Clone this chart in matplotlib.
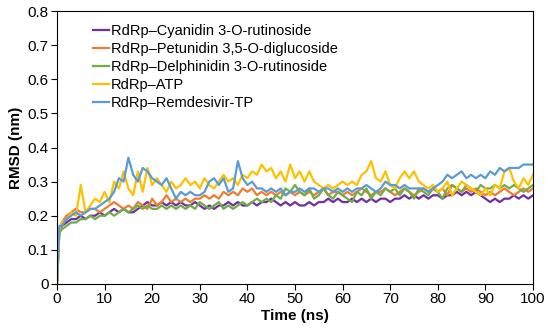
import matplotlib
matplotlib.use("Agg")
import matplotlib.pyplot as plt

plt.rcParams["font.family"] = ["Liberation Sans", "DejaVu Sans"]

# time in ns: 0, 0.5, then every 1 ns
time = [0, 0.5] + list(range(1, 101))

cyanidin = [0.0, 0.16,
    0.17, 0.18, 0.19, 0.19, 0.20, 0.19, 0.20, 0.20, 0.21, 0.20,
    0.21, 0.22, 0.21, 0.22, 0.21, 0.21, 0.22, 0.23, 0.24, 0.23,
    0.23, 0.24, 0.23, 0.24, 0.23, 0.24, 0.23, 0.23, 0.24, 0.23,
    0.22, 0.23, 0.22, 0.23, 0.23, 0.24, 0.23, 0.24, 0.23, 0.23,
    0.24, 0.23, 0.24, 0.24, 0.25, 0.24, 0.23, 0.24, 0.23, 0.24,
    0.23, 0.23, 0.24, 0.23, 0.24, 0.24, 0.25, 0.24, 0.25, 0.24,
    0.24, 0.25, 0.24, 0.25, 0.24, 0.25, 0.24, 0.25, 0.25, 0.24,
    0.25, 0.25, 0.26, 0.25, 0.26, 0.25, 0.26, 0.25, 0.26, 0.26,
    0.25, 0.26, 0.26, 0.27, 0.26, 0.27, 0.26, 0.27, 0.26, 0.25,
    0.24, 0.25, 0.24, 0.25, 0.25, 0.26, 0.25, 0.26, 0.25, 0.26]

petunidin = [0.0, 0.16,
    0.18, 0.20, 0.21, 0.22, 0.21, 0.21, 0.22, 0.22, 0.21, 0.22,
    0.23, 0.24, 0.23, 0.22, 0.23, 0.22, 0.24, 0.23, 0.22, 0.25,
    0.23, 0.24, 0.26, 0.24, 0.25, 0.24, 0.25, 0.24, 0.25, 0.25,
    0.26, 0.25, 0.26, 0.25, 0.27, 0.26, 0.27, 0.26, 0.28, 0.27,
    0.28, 0.26, 0.27, 0.26, 0.27, 0.26, 0.27, 0.26, 0.27, 0.26,
    0.27, 0.26, 0.27, 0.26, 0.27, 0.28, 0.26, 0.27, 0.27, 0.26,
    0.27, 0.26, 0.27, 0.28, 0.27, 0.26, 0.27, 0.27, 0.28, 0.27,
    0.26, 0.27, 0.28, 0.27, 0.26, 0.27, 0.28, 0.27, 0.28, 0.27,
    0.28, 0.26, 0.29, 0.28, 0.27, 0.28, 0.27, 0.28, 0.27, 0.26,
    0.27, 0.26, 0.27, 0.28, 0.27, 0.26, 0.27, 0.28, 0.27, 0.28]

delphinidin = [0.0, 0.15,
    0.16, 0.17, 0.18, 0.18, 0.19, 0.19, 0.20, 0.19, 0.20, 0.20,
    0.21, 0.20, 0.21, 0.22, 0.21, 0.22, 0.23, 0.22, 0.23, 0.22,
    0.22, 0.23, 0.22, 0.23, 0.22, 0.23, 0.22, 0.23, 0.22, 0.24,
    0.23, 0.22, 0.23, 0.24, 0.22, 0.23, 0.22, 0.23, 0.24, 0.23,
    0.24, 0.25, 0.24, 0.25, 0.24, 0.26, 0.25, 0.28, 0.27, 0.29,
    0.27, 0.26, 0.28, 0.25, 0.26, 0.28, 0.26, 0.25, 0.27, 0.26,
    0.25, 0.24, 0.27, 0.26, 0.28, 0.25, 0.27, 0.26, 0.28, 0.27,
    0.28, 0.26, 0.28, 0.27, 0.25, 0.28, 0.27, 0.26, 0.28, 0.27,
    0.25, 0.28, 0.29, 0.28, 0.27, 0.29, 0.28, 0.27, 0.29, 0.28,
    0.28, 0.29, 0.28, 0.29, 0.28, 0.29, 0.28, 0.27, 0.28, 0.29]

atp = [0.0, 0.16,
    0.18, 0.19, 0.21, 0.20, 0.29, 0.21, 0.23, 0.25, 0.24, 0.27,
    0.24, 0.30, 0.28, 0.33, 0.28, 0.26, 0.33, 0.27, 0.34, 0.29,
    0.31, 0.29, 0.27, 0.30, 0.28, 0.29, 0.31, 0.29, 0.30, 0.28,
    0.31, 0.29, 0.28, 0.30, 0.32, 0.30, 0.31, 0.29, 0.32, 0.31,
    0.33, 0.32, 0.35, 0.33, 0.34, 0.31, 0.33, 0.30, 0.35, 0.31,
    0.33, 0.30, 0.33, 0.30, 0.29, 0.28, 0.29, 0.28, 0.29, 0.30,
    0.29, 0.30, 0.29, 0.32, 0.33, 0.36, 0.31, 0.30, 0.33, 0.29,
    0.28, 0.31, 0.33, 0.31, 0.33, 0.30, 0.29, 0.28, 0.29, 0.27,
    0.28, 0.30, 0.26, 0.28, 0.30, 0.29, 0.28, 0.27, 0.26, 0.28,
    0.26, 0.29, 0.28, 0.33, 0.34, 0.30, 0.28, 0.31, 0.29, 0.32]

remdesivir = [0.0, 0.17,
    0.17, 0.19, 0.20, 0.21, 0.20, 0.21, 0.22, 0.22, 0.23, 0.24,
    0.25, 0.27, 0.31, 0.30, 0.37, 0.32, 0.30, 0.34, 0.33, 0.31,
    0.30, 0.29, 0.31, 0.28, 0.25, 0.27, 0.26, 0.27, 0.26, 0.26,
    0.27, 0.30, 0.31, 0.29, 0.31, 0.27, 0.28, 0.36, 0.31, 0.29,
    0.30, 0.28, 0.28, 0.27, 0.28, 0.27, 0.28, 0.26, 0.27, 0.27,
    0.28, 0.27, 0.28, 0.28, 0.27, 0.28, 0.28, 0.27, 0.28, 0.27,
    0.28, 0.27, 0.28, 0.28, 0.29, 0.28, 0.27, 0.28, 0.30, 0.29,
    0.29, 0.28, 0.29, 0.28, 0.28, 0.28, 0.28, 0.27, 0.28, 0.29,
    0.30, 0.32, 0.31, 0.32, 0.33, 0.31, 0.32, 0.31, 0.32, 0.31,
    0.33, 0.32, 0.34, 0.33, 0.34, 0.34, 0.34, 0.35, 0.35, 0.35]

series = [
    ("RdRp\u2013Cyanidin 3-O-rutinoside", cyanidin, "#7030A0"),
    ("RdRp\u2013Petunidin 3,5-O-diglucoside", petunidin, "#ED7D31"),
    ("RdRp\u2013Delphinidin 3-O-rutinoside", delphinidin, "#70AD47"),
    ("RdRp\u2013ATP", atp, "#FFC000"),
    ("RdRp\u2013Remdesivir-TP", remdesivir, "#5B9BD5"),
]

fig = plt.figure(figsize=(5.5, 3.36), dpi=100)
ax = fig.add_axes([0.1036, 0.155, 0.8655, 0.812])

for label, values, color in series:
    ax.plot(time, values, color=color, linewidth=1.6, label=label)

ax.set_xlim(0, 100)
ax.set_ylim(0, 0.8)
ax.set_xticks(range(0, 101, 10))
ax.set_yticks([0, 0.1, 0.2, 0.3, 0.4, 0.5, 0.6, 0.7, 0.8])
ax.set_yticklabels(["0", "0.1", "0.2", "0.3", "0.4", "0.5", "0.6", "0.7", "0.8"])
ax.tick_params(direction="out", length=4, width=0.8, labelsize=11, pad=2)
for spine in ax.spines.values():
    spine.set_linewidth(0.8)

ax.set_xlabel("Time (ns)", fontsize=11, fontweight="bold", labelpad=2)
ax.set_ylabel("RMSD (nm)", fontsize=11, fontweight="bold", labelpad=3)

ax.legend(loc="upper left", bbox_to_anchor=(0.063, 0.975), frameon=False,
          fontsize=10.5, handlelength=1.1, handletextpad=0.15,
          labelspacing=0.28, borderaxespad=0)

fig.savefig("out.png", dpi=100)
